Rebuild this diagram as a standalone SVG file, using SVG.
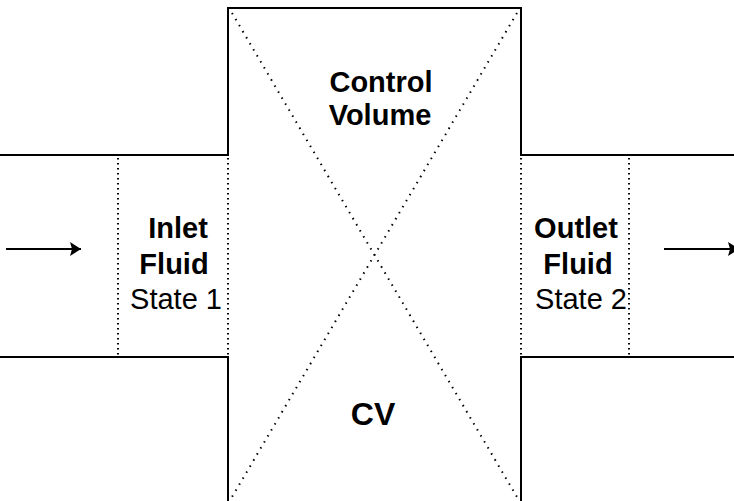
<svg xmlns="http://www.w3.org/2000/svg" width="734" height="501" viewBox="0 0 734 501">
<style>
.solid{stroke:#000;stroke-width:2;fill:none}
.dot{stroke:#000;stroke-width:2;fill:none;stroke-dasharray:1.5 3.5}
.diag{stroke:#000;stroke-width:2;fill:none;stroke-dasharray:1.5 5.5}
text{font-family:"Liberation Sans",Arial,sans-serif;fill:#000;text-anchor:middle}
.b{font-weight:bold;font-size:29px}
.r{font-size:29px}
</style>
<defs>
<marker id="ah" viewBox="0 0 11 14" refX="11" refY="7" markerWidth="11" markerHeight="14" markerUnits="userSpaceOnUse" orient="auto">
<path d="M0,0 L11,7 L0,14 L2,7 Z" fill="#000"/>
</marker>
</defs>
<rect width="734" height="501" fill="#fff"/>
<g id="pipe">
<line class="solid" x1="0" y1="155" x2="229" y2="155"/>
<line class="solid" x1="0" y1="357" x2="229" y2="357"/>
<line class="solid" x1="520" y1="155" x2="734" y2="155"/>
<line class="solid" x1="520" y1="357" x2="734" y2="357"/>
</g>
<g id="control-volume">
<path class="solid" d="M228,155 V8 H521 V155"/>
<line class="solid" x1="228" y1="357" x2="228" y2="501"/>
<line class="solid" x1="521" y1="357" x2="521" y2="501"/>
<line class="dot" x1="228" y1="158" x2="228" y2="355"/>
<line class="dot" x1="521" y1="158" x2="521" y2="355"/>
<line class="diag" x1="232" y1="13" x2="517" y2="497"/>
<line class="diag" x1="517" y1="13" x2="232" y2="497"/>
<text class="b" x="381" y="92">Control</text>
<text class="b" x="380" y="125">Volume</text>
<text class="b" x="373" y="425" style="font-size:32px">CV</text>
</g>
<g id="inlet">
<line class="dot" x1="118" y1="158" x2="118" y2="355"/>
<text class="b" x="178" y="238">Inlet</text>
<text class="b" x="174" y="274">Fluid</text>
<text class="r" x="176" y="309">State 1</text>
</g>
<g id="outlet">
<line class="dot" x1="629" y1="158" x2="629" y2="355"/>
<text class="b" x="576" y="238">Outlet</text>
<text class="b" x="578" y="274">Fluid</text>
<text class="r" x="581" y="309">State 2</text>
</g>
<g id="connectors">
<line class="solid" x1="6" y1="249" x2="81" y2="249" marker-end="url(#ah)"/>
<line class="solid" x1="664" y1="249" x2="739" y2="249" marker-end="url(#ah)"/>
</g>
</svg>
